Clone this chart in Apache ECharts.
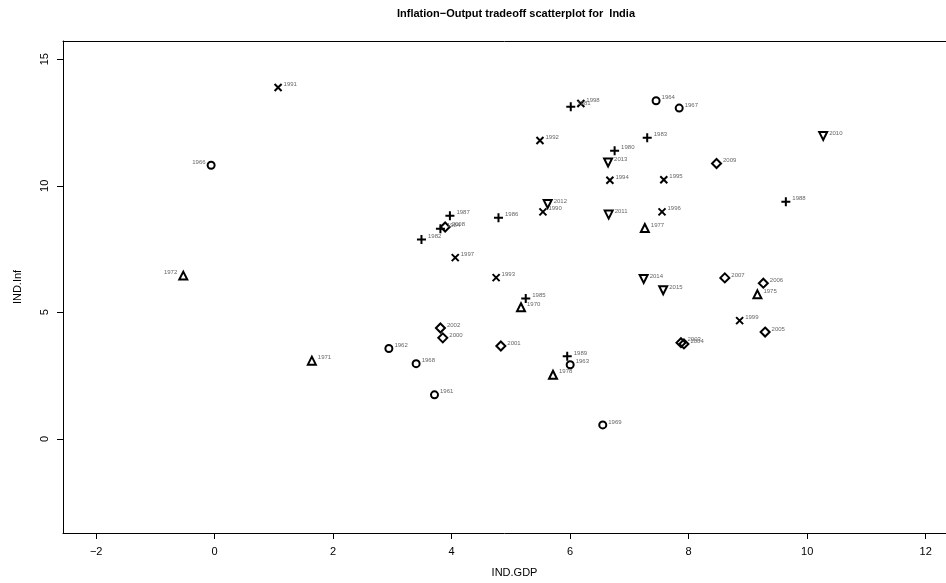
<!DOCTYPE html>
<html>
<head>
<meta charset="utf-8">
<script src="https://cdn.jsdelivr.net/npm/echarts@6/dist/echarts.min.js"></script>
<style>
  html, body { margin: 0; padding: 0; background: #fff; }
  #chart { width: 946px; height: 583px; }
</style>
</head>
<body>
<div id="chart"></div>
<script>
// years and values
const years = [1961, 1962, 1963, 1964, 1966, 1967, 1968, 1969,
  1970, 1971, 1972, 1975, 1977, 1978,
  1980, 1981, 1982, 1983, 1984, 1985, 1986, 1987, 1988, 1989,
  1990, 1991, 1992, 1993, 1994, 1995, 1996, 1997, 1998, 1999,
  2000, 2001, 2002, 2003, 2004, 2005, 2006, 2007, 2008, 2009,
  2010, 2011, 2012, 2013, 2014, 2015]
const gdp = [3.71, 2.94, 6.00, 7.45, -0.06, 7.84, 3.40, 6.55,
  5.17, 1.64, -0.53, 9.16, 7.26, 5.71,
  6.75, 6.01, 3.49, 7.30, 3.81, 5.25, 4.79, 3.97, 9.64, 5.95,
  5.54, 1.07, 5.49, 4.75, 6.67, 7.58, 7.55, 4.06, 6.18, 8.86,
  3.85, 4.83, 3.81, 7.87, 7.92, 9.29, 9.26, 8.61, 3.89, 8.47,
  10.27, 6.65, 5.62, 6.64, 7.24, 7.57]
const inf = [1.74, 3.57, 2.93, 13.36, 10.81, 13.07, 2.97, 0.55,
  5.20, 3.09, 6.45, 5.71, 8.33, 2.53,
  11.38, 13.12, 7.88, 11.90, 8.30, 5.55, 8.74, 8.82, 9.37, 3.26,
  8.97, 13.88, 11.79, 6.37, 10.22, 10.24, 8.97, 7.16, 13.25, 4.67,
  3.99, 3.67, 4.38, 3.80, 3.75, 4.22, 6.15, 6.36, 8.37, 10.88,
  11.97, 8.86, 9.28, 10.92, 6.32, 5.87]
const xTicks = [-2, 0, 2, 4, 6, 8, 10, 12]
const yTicks = [0, 5, 10, 15]
const leftLabelled = [1966, 1972]

// one symbol per decade, like R's pch 1..6
const decades = [
  { start: 1960, symbol: "circle", size: 7, rotate: 0 },
  { start: 1970, symbol: "triangle", size: 8, rotate: 0 },
  { start: 1980, symbol: "path://M0,5L10,5M5,0L5,10", size: 9, rotate: 0 },
  { start: 1990, symbol: "path://M0,0L10,10M10,0L0,10", size: 7, rotate: 0 },
  { start: 2000, symbol: "diamond", size: 9, rotate: 0 },
  { start: 2010, symbol: "triangle", size: 8, rotate: 180 },
]

const series = decades.map((d) => {
  const data = []
  years.forEach((y, i) => {
    if (y >= d.start && y < d.start + 10) {
      const item = { value: [gdp[i], inf[i]], name: String(y) }
      if (leftLabelled.includes(y)) {
        item.label = { position: "left", offset: [0, -3] }
      }
      data.push(item)
    }
  })
  return {
    type: "scatter",
    symbol: d.symbol,
    symbolSize: d.size,
    symbolRotate: d.rotate,
    itemStyle: { color: "transparent", borderColor: "#000", borderWidth: 2, opacity: 1 },
    label: {
      show: true,
      position: "right",
      distance: 1,
      offset: [0, -3],
      formatter: (p) => p.name,
      fontSize: 6,
      color: "#666",
      fontFamily: "Liberation Sans",
    },
    emphasis: { disabled: true },
    data: data,
  }
})

// the R plot box runs past the right edge of the picture
const xMin = -2.56
const xMax = -2.56 + 883 / 59.25

const tickFmt = (v) => String(v).replace("-", "\u2212")

const chart = echarts.init(document.getElementById("chart"))
chart.setOption({
  animation: false,
  textStyle: { fontFamily: "Liberation Sans" },
  title: {
    text: "Inflation\u2212Output tradeoff scatterplot for  India",
    left: 511,
    top: 3,
    textAlign: "center",
    textStyle: { fontSize: 11, fontWeight: "bold", color: "#000", fontFamily: "Liberation Sans" },
  },
  grid: {
    left: 63,
    top: 41,
    width: 883,
    height: 492,
    show: false,
  },
  xAxis: [
    {
      type: "value",
      min: xMin,
      max: xMax,
      name: "IND.GDP",
      nameLocation: "middle",
      nameGap: 34,
      nameTextStyle: { fontSize: 11, color: "#000", align: "center", padding: [0, 0, 0, 20] },
      axisLine: { show: true, onZero: false, lineStyle: { color: "#000" } },
      axisTick: { show: true, length: 6, inside: false, customValues: xTicks, lineStyle: { color: "#000" } },
      axisLabel: { customValues: xTicks, fontSize: 11, color: "#000", margin: 13, formatter: tickFmt },
      splitLine: { show: false },
    },
    {
      type: "value",
      position: "top",
      min: xMin,
      max: xMax,
      axisLine: { show: true, onZero: false, lineStyle: { color: "#000" } },
      axisTick: { show: false },
      axisLabel: { show: false },
      splitLine: { show: false },
    },
  ],
  yAxis: {
    type: "value",
    min: -3.72,
    max: 15.72,
    name: "IND.Inf",
    nameLocation: "middle",
    nameGap: 40,
    nameRotate: 90,
    nameTextStyle: { fontSize: 11, color: "#000" },
    axisLine: { show: true, onZero: false, lineStyle: { color: "#000" } },
    axisTick: { show: true, length: 6, inside: false, customValues: yTicks, lineStyle: { color: "#000" } },
    axisLabel: { customValues: yTicks, fontSize: 11, color: "#000", rotate: 90, margin: 13 },
    splitLine: { show: false },
  },
  series: series,
})
</script>
</body>
</html>
